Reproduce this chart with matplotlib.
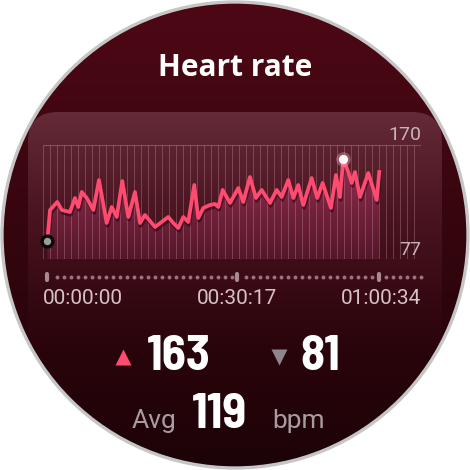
import numpy as np
import matplotlib.pyplot as plt
import matplotlib.patheffects as pe
import matplotlib.transforms as mtransforms
from matplotlib.patches import Circle, FancyBboxPatch, Polygon
from matplotlib.colors import to_rgb

# heart-rate trace (seconds since start, bpm)
t_sec = [0, 30, 109, 158, 248, 303, 339, 377, 431, 504, 566, 650, 705, 760,
         821, 887, 960, 1015, 1069, 1179, 1252, 1324, 1379, 1434, 1489, 1543,
         1609, 1653, 1708, 1781, 1836, 1872, 1920, 2000, 2091, 2145, 2219,
         2284, 2347, 2438, 2511, 2566, 2638, 2693, 2747, 2802, 2894, 2955,
         3014, 3105, 3160, 3204, 3240, 3295, 3332, 3368, 3423, 3514, 3606, 3634]
bpm = [81, 112, 120, 112, 110, 124, 115, 130, 124, 112, 142, 99, 115, 105,
       141, 105, 130, 99, 107, 95, 100, 105, 99, 94, 105, 100, 137, 104, 114,
       117, 118, 115, 132, 119, 134, 120, 145, 124, 132, 119, 132, 125, 142,
       124, 137, 117, 144, 124, 139, 114, 147, 125, 163, 150, 139, 150, 125,
       149, 122, 150]

y_labels = ['170', '77']
tick_pos = [0, 2073, 3634]
tick_labels = ['00:00:00', '00:30:17', '01:00:34']
hr_max, hr_min, hr_avg = 163, 81, 119
title = 'Heart rate'

W = H = 470
XLIM = (-47, 4091)
YLIM = (63, 177)
PINK = '#ff4b70'

def vgrad(top, bottom, a_top=1.0, a_bot=1.0, n=256):
    s = np.linspace(0, 1, n)[:, None]
    rgb = np.array(to_rgb(top)) * (1 - s) + np.array(to_rgb(bottom)) * s
    a = a_top * (1 - s) + a_bot * s
    return np.concatenate([rgb, a], axis=1)[:, None, :]

fig = plt.figure(figsize=(4.7, 4.7), dpi=100)
fig.patch.set_facecolor('white')

# background: watch face in pixel coordinates
bg = fig.add_axes([0, 0, 1, 1])
bg.axis('off')

face = Circle((235, 235), 233, facecolor='none', edgecolor='none')
bg.add_patch(face)
im = bg.imshow(vgrad('#4e0815', '#1c0307'), extent=(0, W, H, 0),
               aspect='auto', interpolation='bilinear')
im.set_clip_path(face)

panel = FancyBboxPatch((28, 112), 414, 250, boxstyle='round,pad=0,rounding_size=30',
                       facecolor='none', edgecolor='none')
bg.add_patch(panel)
pim = bg.imshow(vgrad('#7c4452', '#5a1a2c', 0.6, 0.0), extent=(28, 442, 362, 112),
                aspect='auto', interpolation='bilinear')
pim.set_clip_path(panel)

# white mask outside the face, then the grey bezel
bg.add_patch(Circle((235, 235), 233 + 110, fill=False, edgecolor='white', lw=220 * 0.72))
bg.add_patch(Circle((235, 235), 233, fill=False, edgecolor='#c6c6c6', lw=2.4))
bg.set_xlim(0, W)
bg.set_ylim(H, 0)

bg.text(235, 68, title, ha='center', va='center', color='white', fontsize=21.5,
        fontweight='bold', family=['Open Sans', 'DejaVu Sans'])

num_font = dict(color='white', fontsize=35.5, fontweight='bold', stretch='semi-condensed',
                family=['Barlow Semi Condensed', 'DejaVu Sans'])
lab_font = dict(color='#a99ca1', fontsize=19, family=['Roboto', 'DejaVu Sans'])
bg.plot(123, 357, marker='^', ms=11, color=PINK, mec='none')
bg.plot(279, 357, marker='v', ms=11, color='#8e868a', mec='none')
bg.text(147, 370, str(hr_max), ha='left', va='baseline', **num_font)
bg.text(300, 370, str(hr_min), ha='left', va='baseline', **num_font)
bg.text(132, 428, 'Avg', ha='left', va='baseline', **lab_font)
bg.text(192, 428, str(hr_avg), ha='left', va='baseline', **num_font)
bg.text(272, 428, 'bpm', ha='left', va='baseline', **lab_font)

# chart
ax = fig.add_axes([43 / W, 1 - 259 / H, 378 / W, 114 / H])
ax.axis('off')
trans = mtransforms.blended_transform_factory(ax.transData, ax.transAxes)

area = Polygon(list(zip([t_sec[0]] + t_sec + [t_sec[-1]], [YLIM[0]] + bpm + [YLIM[0]])),
               facecolor='none', edgecolor='none')
ax.add_patch(area)
fim = ax.imshow(vgrad('#962f52', '#541628'), extent=(XLIM[0], XLIM[1], YLIM[0], 165),
                aspect='auto', interpolation='bilinear', zorder=1)
fim.set_clip_path(area)

grid_x = np.linspace(XLIM[0], XLIM[1], 55)
ax.vlines(grid_x, YLIM[0], YLIM[1], colors='#d8a8b6', alpha=0.3, lw=0.7, zorder=2)
ax.hlines(YLIM, XLIM[0], XLIM[1], colors='#d8a8b6', alpha=0.35, lw=0.8, zorder=2)

ax.plot(t_sec, bpm, color=PINK, lw=2.7, solid_joinstyle='round', zorder=3,
        path_effects=[pe.SimpleLineShadow(offset=(0.6, -2), shadow_color='#1a0008', alpha=0.5),
                      pe.Normal()])

i_max = int(np.argmax(bpm))
ax.scatter(t_sec[i_max], bpm[i_max], s=110, color='#ffb0c0', alpha=0.35, lw=0, zorder=4)
ax.scatter(t_sec[i_max], bpm[i_max], s=45, color='#fff4f6', lw=0, zorder=5)
ax.scatter(t_sec[0], bpm[0], s=60, color='#9c9c9c', edgecolors='#080808', linewidths=2.4,
           zorder=5, clip_on=False)

# y labels
ax.text(1.0, 1.092, y_labels[0], transform=ax.transAxes, ha='right', va='center',
        color='#c9b4bb', fontsize=14, family=['Roboto', 'DejaVu Sans'])
ax.text(1.0, 0.083, y_labels[1], transform=ax.transAxes, ha='right', va='center',
        color='#c9b4bb', fontsize=14, family=['Roboto', 'DejaVu Sans'])

# time scrubber dots
dot_x = [x for x in grid_x[1:] if min(abs(x - p) for p in tick_pos) > 40]
ax.scatter(dot_x, [-0.158] * len(dot_x), s=8, color='#9a7280', lw=0,
           transform=trans, clip_on=False)
ax.vlines(tick_pos, -0.135, -0.18, transform=trans, colors='#a88a94', lw=3.0,
          capstyle='round', clip_on=False)

tfont = dict(color='#d6c2c9', fontsize=15, va='center', family=['Roboto', 'DejaVu Sans'])
ax.text(0, -0.346, tick_labels[0], transform=ax.transAxes, ha='left', **tfont)
ax.text(tick_pos[1], -0.346, tick_labels[1], transform=trans, ha='center', **tfont)
ax.text(1.0, -0.346, tick_labels[2], transform=ax.transAxes, ha='right', **tfont)

ax.set_xlim(*XLIM)
ax.set_ylim(*YLIM)

plt.savefig('out.png', dpi=100, facecolor='white')
